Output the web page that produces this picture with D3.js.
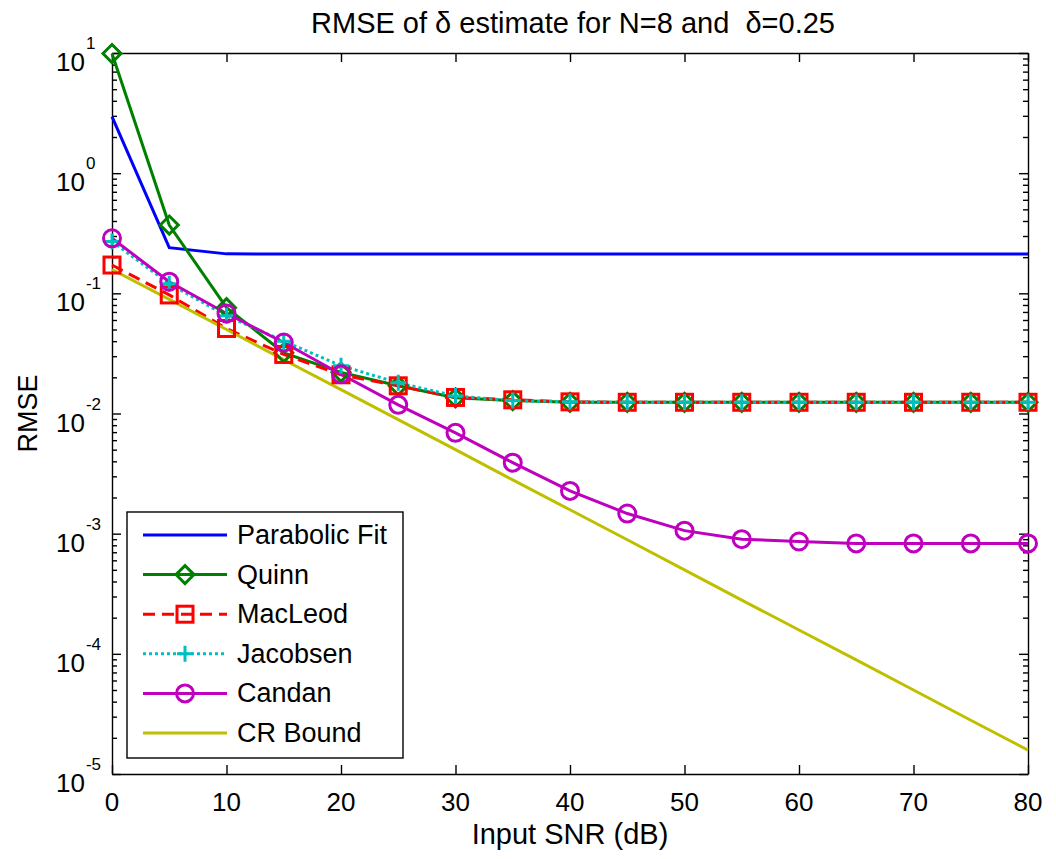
<!DOCTYPE html>
<html>
<head>
<meta charset="utf-8">
<script src="https://cdn.jsdelivr.net/npm/d3@7"></script>
<style>
  body { margin: 0; background: #fff; }
  svg { display: block; font-family: "Liberation Sans", Arial, sans-serif; }
</style>
</head>
<body>
<svg id="chart"></svg>
<script>
// RMSE vs. Eingangs-SNR, log. y-Achse (Nachbau einer MATLAB-Abbildung)
const snr = [0, 5, 10, 15, 20, 25, 30, 35, 40, 45, 50, 55, 60, 65, 70, 75, 80];

const parabolic = [2.95, 0.24, 0.213, 0.212, 0.212, 0.212, 0.212, 0.212, 0.212,
                   0.212, 0.212, 0.212, 0.212, 0.212, 0.212, 0.212, 0.212];
const quinn     = [9.9, 0.37, 0.076, 0.032, 0.022, 0.017, 0.0135, 0.0128, 0.0124,
                   0.0124, 0.0124, 0.0124, 0.0124, 0.0124, 0.0124, 0.0124, 0.0124];
const macleod   = [0.172, 0.097, 0.051, 0.031, 0.021, 0.017, 0.0136, 0.013, 0.0125,
                   0.0124, 0.0124, 0.0124, 0.0124, 0.0124, 0.0124, 0.0124, 0.0124];
const jacobsen  = [0.27, 0.12, 0.065, 0.040, 0.025, 0.018, 0.014, 0.0128, 0.0125,
                   0.0124, 0.0124, 0.0124, 0.0124, 0.0124, 0.0124, 0.0124, 0.0124];
const candan    = [0.287, 0.125, 0.068, 0.039, 0.0212, 0.0118, 0.0069, 0.0039, 0.00227,
                   0.00147, 0.00106, 0.0009, 0.00086, 0.00083, 0.00083, 0.00083, 0.00083];
const crBound   = [0.158, 0.089, 0.050, 0.028, 0.0158, 0.0089, 0.0050, 0.0028, 0.00158,
                   0.00089, 0.00050, 0.00028, 0.000158, 0.000089, 0.000050, 0.000028, 0.0000158];

const xTicks = [0, 10, 20, 30, 40, 50, 60, 70, 80];
const yExponents = [1, 0, -1, -2, -3, -4, -5];

const series = [
  { name: "Parabolic Fit", values: parabolic, color: "#0000ff", dash: null,  marker: null },
  { name: "Quinn",         values: quinn,     color: "#008000", dash: null,  marker: "diamond" },
  { name: "MacLeod",       values: macleod,   color: "#ff0000", dash: "12,7", marker: "square" },
  { name: "Jacobsen",      values: jacobsen,  color: "#00bfbf", dash: "3,3", marker: "plus" },
  { name: "Candan",        values: candan,    color: "#bf00bf", dash: null,  marker: "circle" },
  { name: "CR Bound",      values: crBound,   color: "#bfbf00", dash: null,  marker: null }
];

const width = 1056, height = 859;
const margin = { top: 53, right: 28, bottom: 85, left: 112 };
const innerWidth  = width  - margin.left - margin.right;
const innerHeight = height - margin.top  - margin.bottom;

const svg = d3.select("#chart")
  .attr("width", width)
  .attr("height", height)
  .attr("viewBox", `0 0 ${width} ${height}`);

svg.append("rect").attr("width", width).attr("height", height).attr("fill", "#fff");

const x = d3.scaleLinear().domain([0, 80]).range([margin.left, margin.left + innerWidth]);
const y = d3.scaleLog().domain([1e-5, 10]).range([margin.top + innerHeight, margin.top]);

// Achsen (MATLAB-Stil: Ticks nach innen, Box ringsum)
const tickLen = 9, minorLen = 5;
const noText = a => a.selectAll("text").remove();

svg.append("g")
  .attr("transform", `translate(0,${margin.top + innerHeight})`)
  .call(d3.axisBottom(x).tickValues(xTicks).tickSizeInner(-tickLen).tickSizeOuter(0))
  .call(noText);
svg.append("g")
  .attr("transform", `translate(0,${margin.top})`)
  .call(d3.axisTop(x).tickValues(xTicks).tickSizeInner(-tickLen).tickSizeOuter(0))
  .call(noText);

const minorTicks = [];
yExponents.slice(1).forEach(e => {
  for (let k = 2; k <= 9; k++) minorTicks.push(k * Math.pow(10, e));
});
const majorTicks = yExponents.map(e => Math.pow(10, e));

[margin.left, margin.left + innerWidth].forEach((ax, i) => {
  const side = i === 0 ? d3.axisLeft : d3.axisRight;
  svg.append("g")
    .attr("transform", `translate(${ax},0)`)
    .call(side(y).tickValues(majorTicks).tickSizeInner(-tickLen).tickSizeOuter(0))
    .call(noText);
  svg.append("g")
    .attr("transform", `translate(${ax},0)`)
    .call(side(y).tickValues(minorTicks).tickSizeInner(-minorLen).tickSizeOuter(0))
    .call(noText)
    .call(a => a.select(".domain").remove());
});

svg.selectAll(".domain").attr("stroke", "#000").attr("stroke-width", 1.4);
svg.selectAll(".tick line").attr("stroke", "#000").attr("stroke-width", 1.4);

// Tick-Beschriftungen als eigene Texte
xTicks.forEach(v => {
  svg.append("text")
    .attr("x", x(v)).attr("y", 811)
    .attr("text-anchor", "middle")
    .attr("font-size", "26px")
    .text(v);
});

yExponents.forEach(e => {
  const ty = y(Math.pow(10, e));
  const t = svg.append("text")
    .attr("x", 56).attr("y", ty + 18)
    .attr("font-size", "26px");
  t.append("tspan").text("10");
  t.append("tspan")
    .attr("dx", 1).attr("dy", -22)
    .attr("font-size", "17px")
    .text(String(e));
});

// Linien
const line = d3.line()
  .x((d, i) => x(snr[i]))
  .y(d => y(d));

series.forEach(s => {
  svg.append("path")
    .datum(s.values)
    .attr("fill", "none")
    .attr("stroke", s.color)
    .attr("stroke-width", 3)
    .attr("stroke-dasharray", s.dash)
    .attr("d", line);
});

function drawMarker(sel, type, color) {
  sel.attr("fill", "none").attr("stroke", color).attr("stroke-width", 3);
  if (type === "diamond") {
    sel.append("path").attr("d", "M0,-9L9,0L0,9L-9,0Z");
  } else if (type === "square") {
    sel.append("rect").attr("x", -8).attr("y", -8).attr("width", 16).attr("height", 16);
  } else if (type === "plus") {
    sel.append("path").attr("d", "M-8,0H8M0,-8V8");
  } else if (type === "circle") {
    sel.append("circle").attr("r", 8.5);
  }
}

series.forEach(s => {
  if (!s.marker) return;
  svg.append("g").selectAll("g")
    .data(s.values)
    .join("g")
    .attr("transform", (d, i) => `translate(${x(snr[i])},${y(d)})`)
    .each(function() { drawMarker(d3.select(this), s.marker, s.color); });
});

// Titel und Achsentitel
svg.append("text")
  .attr("x", margin.left + innerWidth / 2 + 3)
  .attr("y", 33)
  .attr("text-anchor", "middle")
  .attr("font-size", "29px")
  .style("white-space", "pre")
  .text("RMSE of \u03b4 estimate for N=8 and  \u03b4=0.25");

svg.append("text")
  .attr("x", margin.left + innerWidth / 2)
  .attr("y", 844)
  .attr("text-anchor", "middle")
  .attr("font-size", "29px")
  .text("Input SNR (dB)");

svg.append("text")
  .attr("transform", `translate(37,${margin.top + innerHeight / 2}) rotate(-90)`)
  .attr("text-anchor", "middle")
  .attr("font-size", "27px")
  .text("RMSE");

// Legende
const lx = 127, ly = 512;
svg.append("rect")
  .attr("x", lx).attr("y", ly)
  .attr("width", 276).attr("height", 246)
  .attr("fill", "#fff").attr("stroke", "#000").attr("stroke-width", 1.4);

series.forEach((s, i) => {
  const ry = ly + 23 + i * 39.6;
  svg.append("line")
    .attr("x1", lx + 16).attr("x2", lx + 100)
    .attr("y1", ry).attr("y2", ry)
    .attr("stroke", s.color).attr("stroke-width", 3)
    .attr("stroke-dasharray", s.dash);
  if (s.marker) {
    drawMarker(svg.append("g").attr("transform", `translate(${lx + 58},${ry})`), s.marker, s.color);
  }
  svg.append("text")
    .attr("x", lx + 110).attr("y", ry + 9)
    .attr("font-size", "27px")
    .text(s.name);
});
</script>
</body>
</html>
